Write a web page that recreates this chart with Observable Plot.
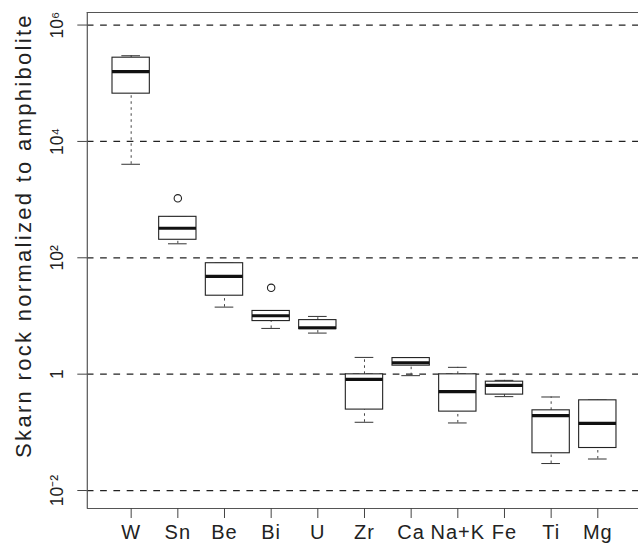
<!DOCTYPE html>
<html><head><meta charset="utf-8">
<script src="https://cdn.jsdelivr.net/npm/d3@7"></script>
<script src="https://cdn.jsdelivr.net/npm/@observablehq/plot@0.6"></script>
<style>
body{margin:0;background:#fff} svg{display:block}
g[aria-label="text"] text{letter-spacing:2.3px}
g[aria-label="x-axis tick label"] text{letter-spacing:1px}
</style>
</head><body><div id="chart"></div>
<script>
// Categories
const elements = ["W","Sn","Be","Bi","U","Zr","Ca","Na+K","Fe","Ti","Mg"];
// Box statistics (ratio skarn / amphibolite)
const lowerWhisker = [4050, 174, 14.2, 6.11, 5.08, 0.149, 0.942, 0.145, 0.411, 0.0291, 0.0348];
const lowerQuartile = [66200, 204, 22.3, 8.17, 5.94, 0.246, 1.40, 0.227, 0.445, 0.0437, 0.0538];
const medians = [158000, 322, 47.8, 10.1, 6.28, 0.815, 1.57, 0.501, 0.643, 0.194, 0.143];
const upperQuartile = [275000, 506, 80.7, 12.2, 8.49, 0.993, 1.89, 0.993, 0.743, 0.239, 0.355];
const upperWhisker = [297000, 506, 80.7, 12.2, 9.82, 1.94, 1.89, 1.31, 0.782, 0.405, 0.359];
const outlierElements = ["Sn", "Bi"];
const outlierValues = [1054, 30.5];
// Axis ticks
const yTicks = [1e-2, 1, 1e2, 1e4, 1e6];
const yTickLabels = ["10\u207B\u00B2", "1", "10\u00B2", "10\u2074", "10\u2076"];
const yLabel = "Skarn rock normalized to amphibolite";
const xDomain = [0.06, 11.872];
const yDomain = [0.00491, 1644000];

const boxes = elements.map((e, i) => ({
  element: e, pos: i + 1,
  lo: lowerWhisker[i], q1: lowerQuartile[i], med: medians[i], q3: upperQuartile[i], hi: upperWhisker[i]
}));
const outliers = outlierElements.map((e, i) => ({pos: elements.indexOf(e) + 1, value: outlierValues[i]}));

const half = 0.4, staple = 0.2;
const font = "'Liberation Sans', Arial, Helvetica, sans-serif";

const chart = Plot.plot({
  width: 638, height: 543,
  marginLeft: 86.8, marginRight: 0, marginTop: 12, marginBottom: 35,
  style: {fontFamily: font, background: "white", color: "#222"},
  x: {type: "linear", domain: xDomain},
  y: {type: "log", domain: yDomain},
  marks: [
    Plot.ruleY(yTicks, {stroke: "#222", strokeWidth: 1.2, strokeDasharray: "6.7,6.6"}),
    Plot.ruleX(boxes, {x: "pos", y1: "q3", y2: "hi", stroke: "#444", strokeDasharray: "2.5,3.5"}),
    Plot.ruleX(boxes, {x: "pos", y1: "lo", y2: "q1", stroke: "#444", strokeDasharray: "2.5,3.5"}),
    Plot.ruleY(boxes, {y: "hi", x1: d => d.pos - staple, x2: d => d.pos + staple, stroke: "#333"}),
    Plot.ruleY(boxes, {y: "lo", x1: d => d.pos - staple, x2: d => d.pos + staple, stroke: "#333"}),
    Plot.rect(boxes, {x1: d => d.pos - half, x2: d => d.pos + half, y1: "q1", y2: "q3", fill: "white", stroke: "#222", strokeWidth: 1.1}),
    Plot.ruleY(boxes, {y: "med", x1: d => d.pos - half, x2: d => d.pos + half, stroke: "#111", strokeWidth: 3.2}),
    Plot.dot(outliers, {x: "pos", y: "value", r: 3.7, stroke: "#222", strokeWidth: 1.1, fill: "none"}),
    Plot.ruleX([xDomain[0]], {stroke: "#555", strokeWidth: 1.2}),
    Plot.ruleY([yDomain[0], yDomain[1]], {stroke: "#555", strokeWidth: 1.2}),
    Plot.axisX({ticks: d3.range(1, elements.length + 1), tickFormat: d => elements[d - 1], tickSize: 10, tickPadding: 6, fontSize: 20, label: null, stroke: "#444"}),
    Plot.axisY({ticks: yTicks, tickFormat: d => yTickLabels[yTicks.indexOf(d)], tickSize: 9.5, tickPadding: 15, tickRotate: -90, textAnchor: "middle", lineAnchor: "bottom", fontSize: 17.5, label: null, stroke: "#444"}),
    Plot.text([yLabel], {frameAnchor: "left", textAnchor: "middle", rotate: -90, dx: -72, dy: -25, lineAnchor: "top", fontSize: 22, fill: "#222"})
  ]
});
document.getElementById("chart").appendChild(chart);
</script>
</body></html>
